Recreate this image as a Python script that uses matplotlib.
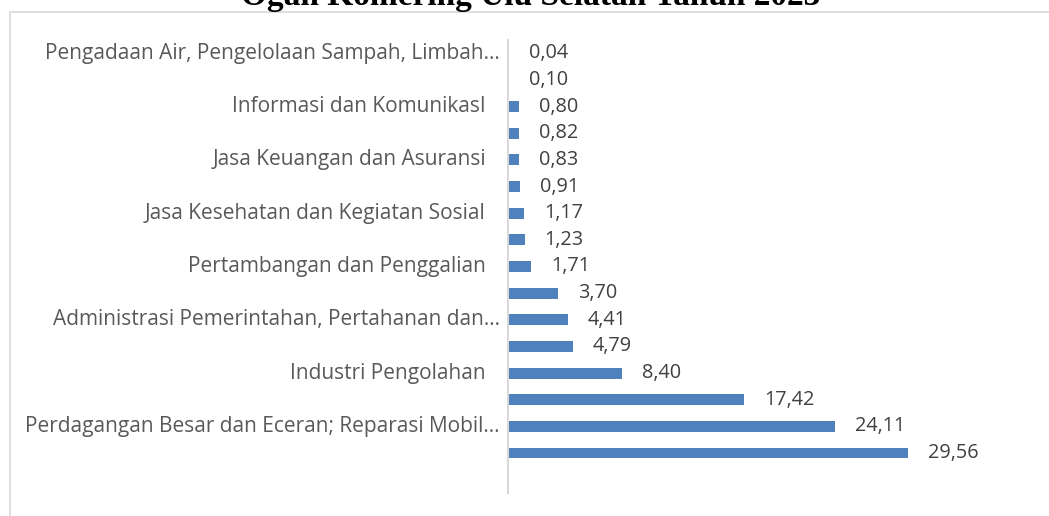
import matplotlib.pyplot as plt
from matplotlib.patches import Rectangle

# PDRB share by sector (%), top to bottom as in the chart
labels = [
    "Pengadaan Air, Pengelolaan Sampah, Limbah…",
    "",
    "Informasi dan KomunikasI",
    "",
    "Jasa Keuangan dan Asuransi",
    "",
    "Jasa Kesehatan dan Kegiatan Sosial",
    "",
    "Pertambangan dan Penggalian",
    "",
    "Administrasi Pemerintahan, Pertahanan dan…",
    "",
    "Industri Pengolahan",
    "",
    "Perdagangan Besar dan Eceran; Reparasi Mobil…",
    "",
]
values = [0.04, 0.10, 0.80, 0.82, 0.83, 0.91, 1.17, 1.23, 1.71,
          3.70, 4.41, 4.79, 8.40, 17.42, 24.11, 29.56]
title = "Ogan Komering Ulu Selatan Tahun 2023"

W, H = 1049, 516
fig = plt.figure(figsize=(W / 100, H / 100), dpi=100)

# outer chart border (only top and left edges are in view)
fig.patches.append(Rectangle((10 / W, -0.2), 1.2, 1.2 - 11.5 / H,
                             transform=fig.transFigure, fill=False,
                             edgecolor="#D9D9D9", linewidth=1.2))

fig.text(531 / W, 1 - 5 / H, title, ha="center", va="baseline",
         fontsize=24, fontweight="bold", family="Liberation Serif", color="black")

ax = fig.add_axes([508 / W, (H - 493) / H, 474 / W, 453 / H])
ypos = list(range(len(values)))
ax.barh(ypos, values, height=0.41, color="#4F81BD")
ax.set_xlim(0, 35)
ax.set_ylim(len(values) + 0.5, -0.5)

for s in ["top", "right", "bottom"]:
    ax.spines[s].set_visible(False)
ax.spines["left"].set_color("#D9D9D9")
ax.spines["left"].set_linewidth(1.5)
ax.set_xticks([])
ax.set_yticks([])

fnt = "Open Sans"
for y, lab in zip(ypos, labels):
    if not lab:
        continue
    pad = 6 if lab.endswith("…") else 16
    ax.annotate(lab, xy=(0, y), xycoords=ax.get_yaxis_transform(),
                xytext=(-pad, 0), textcoords="offset points",
                ha="right", va="center", fontsize=15, family=fnt, color="#595959")

for y, v in zip(ypos, values):
    ax.annotate(f"{v:.2f}".replace(".", ","), xy=(v, y), xytext=(14.4, 0),
                textcoords="offset points", ha="left", va="center",
                fontsize=14.3, family=fnt, color="#404040")

fig.savefig("out.png", dpi=100)
